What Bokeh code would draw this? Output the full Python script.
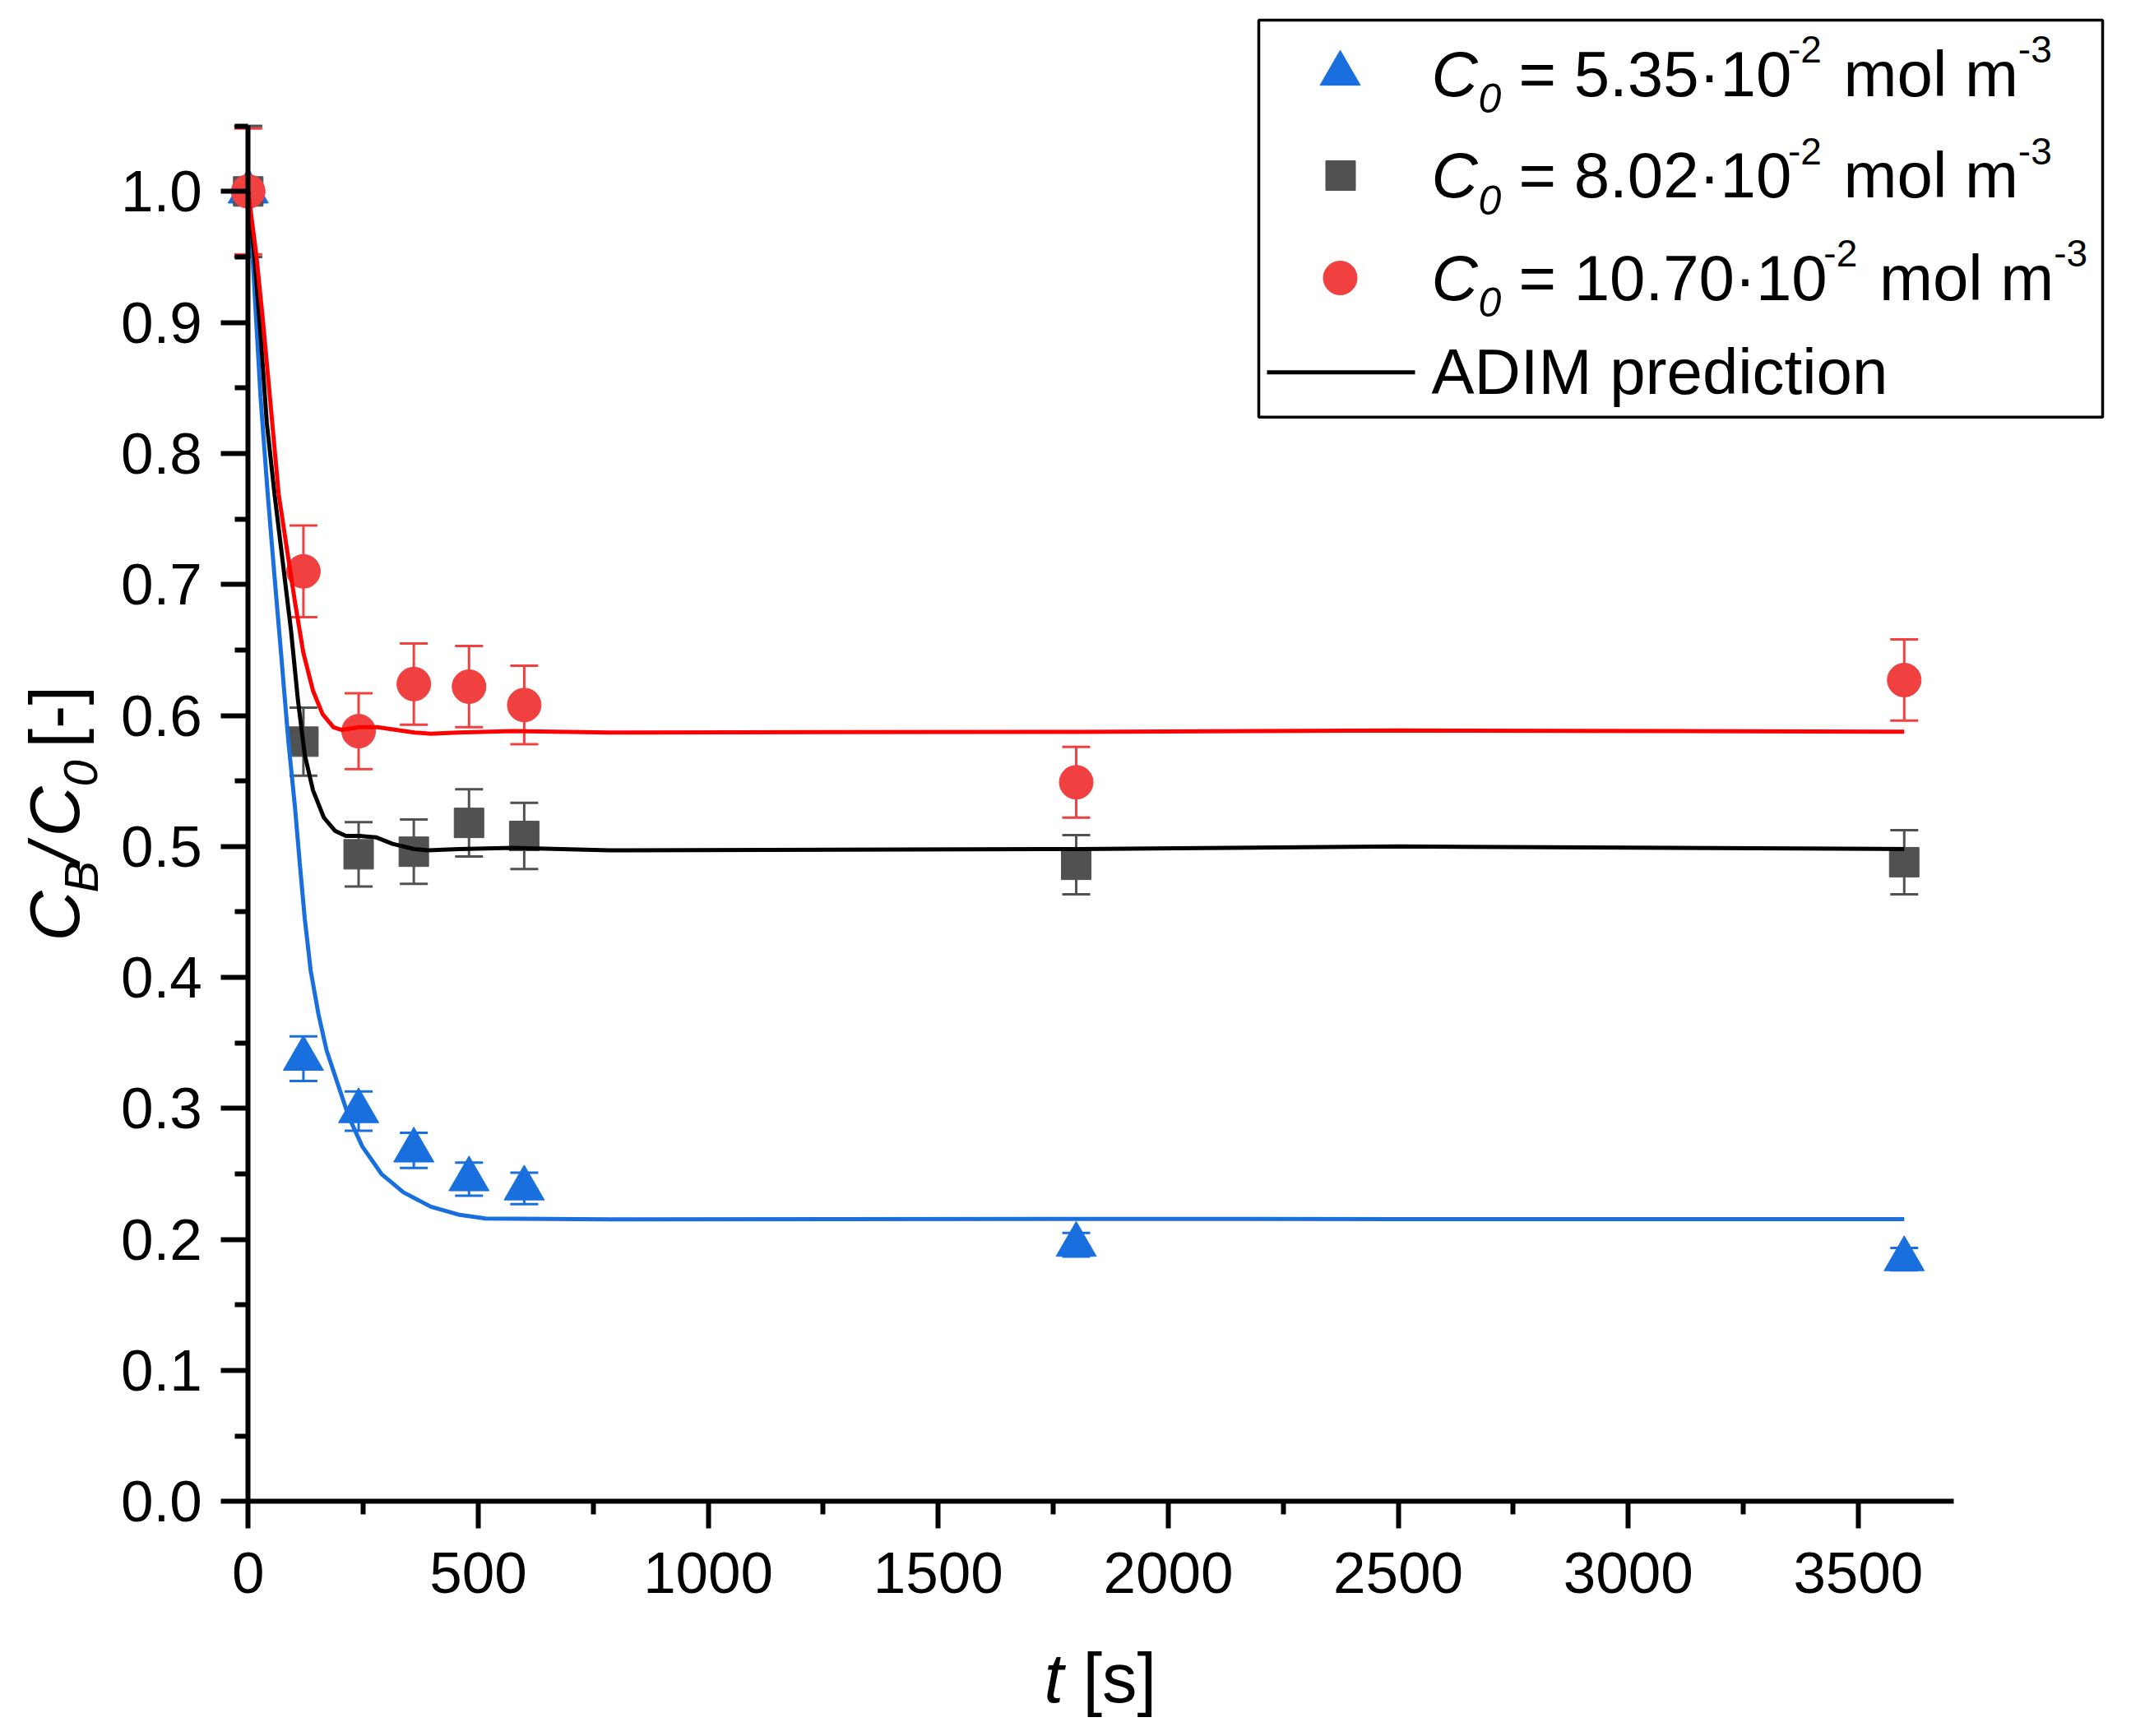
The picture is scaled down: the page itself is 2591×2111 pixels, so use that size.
import numpy as np
from bokeh.plotting import figure
from bokeh.models import (ColumnDataSource, Whisker, TeeHead, Label, FixedTicker,
                          PrintfTickFormatter, Range1d)
from bokeh.embed import file_html
from bokeh.resources import INLINE

# ---------------- data ----------------
t_exp = [0, 120, 240, 360, 480, 600, 1800, 3600]

cb_535 = [1.000, 0.338, 0.298, 0.268, 0.246, 0.239, 0.196, 0.185]
err_535 = [0.050, 0.017, 0.015, 0.0134, 0.0126, 0.012, 0.009, 0.0085]

cb_802 = [1.000, 0.580, 0.494, 0.496, 0.518, 0.508, 0.486, 0.488]
err_802 = [0.050, 0.026, 0.0246, 0.0246, 0.0257, 0.0253, 0.0226, 0.0245]

cb_1070 = [1.000, 0.710, 0.588, 0.624, 0.622, 0.608, 0.549, 0.627]
err_1070 = [0.048, 0.035, 0.029, 0.031, 0.031, 0.030, 0.027, 0.031]

# ADIM prediction curves
t_m_535 = [0, 8.4, 26.8, 42.4, 57.2, 72.2, 87.1, 101.9, 112.1, 122.9, 135.9, 152.7,
           170.6, 194.4, 218.2, 248, 289.7, 337.4, 397, 456.7, 516.3, 784.5, 1800, 2500, 3600]
cb_m_535 = [1.0, 0.957, 0.843, 0.769, 0.706, 0.644, 0.581, 0.529, 0.487, 0.445, 0.405, 0.372,
            0.344, 0.319, 0.294, 0.271, 0.250, 0.236, 0.225, 0.219, 0.216, 0.2153, 0.2157, 0.2155, 0.2155]

t_m_802 = [0, 13.2, 26.8, 40.5, 57.2, 75.1, 93, 108, 122.9, 140.7, 164.5, 188.5, 212.3,
           242.1, 277.9, 313.7, 361.2, 391.1, 456.7, 575.8, 784.5, 1800, 2500, 3600]
cb_m_802 = [1.0, 0.951, 0.891, 0.823, 0.769, 0.717, 0.665, 0.612, 0.570, 0.543, 0.522, 0.512, 0.508,
            0.508, 0.507, 0.502, 0.498, 0.497, 0.498, 0.499, 0.497, 0.498, 0.500, 0.498]

t_m_1070 = [0, 17.7, 31.5, 45.1, 66.2, 84.1, 101.9, 119.8, 140.7, 161.6, 185.4, 203.3,
            242.1, 280.8, 361.2, 397, 456.7, 575.8, 784.5, 1800, 2500, 3600]
cb_m_1070 = [1.0, 0.951, 0.903, 0.851, 0.769, 0.727, 0.686, 0.648, 0.619, 0.601, 0.591, 0.589,
             0.591, 0.591, 0.587, 0.586, 0.587, 0.588, 0.587, 0.5875, 0.5885, 0.5876]

x_ticks = [0, 500, 1000, 1500, 2000, 2500, 3000, 3500]
x_minor = [250, 750, 1250, 1750, 2250, 2750, 3250]
y_ticks = [0.0, 0.1, 0.2, 0.3, 0.4, 0.5, 0.6, 0.7, 0.8, 0.9, 1.0]
y_minor = [0.05, 0.15, 0.25, 0.35, 0.45, 0.55, 0.65, 0.75, 0.85, 0.95, 1.05]

legend_numbers = ["5.35", "8.02", "10.70"]

BLUE = "#1A6FDF"
GRAY = "#515151"
RED_M = "#F14040"
RED_L = "#FF0000"
FONT = "Liberation Sans"
LW_MODEL = 5

# ---------------- page geometry (pixel calibration) ----------------
W, H = 2575, 2095
OFF = 0
X0_PX, PX_PER_T = 301.3, 0.5593
Y0_PX, PX_PER_V = 1825.3, 1593.0
K_BASE = 0.347   # label anchor -> baseline offset (fraction of font size)


def tx(X):
    return (X - X0_PX) / PX_PER_T


def vy(Y):
    return (Y0_PX - Y) / PX_PER_V


p = figure(width=W, height=H, output_backend="svg", toolbar_location=None, title=None,
           x_range=Range1d(tx(OFF), tx(OFF + W)), y_range=Range1d(vy(OFF + H), vy(OFF)),
           min_border=0)
p.background_fill_color = "white"
p.border_fill_color = "white"
p.outline_line_color = None
p.grid.visible = False

for ax in (p.xaxis[0], p.yaxis[0]):
    ax.fixed_location = 0
    ax.axis_line_width = 6
    ax.axis_line_color = "black"
    ax.major_tick_line_width = 6
    ax.minor_tick_line_width = 6
    ax.major_tick_line_color = "black"
    ax.minor_tick_line_color = "black"
    ax.major_tick_in = 0
    ax.major_tick_out = 33
    ax.minor_tick_in = 0
    ax.minor_tick_out = 16
    ax.major_label_text_font = FONT
    ax.major_label_text_font_size = "71px"
    ax.major_label_text_color = "black"

p.xaxis[0].bounds = (0, 3707)
p.xaxis[0].ticker = FixedTicker(ticks=x_ticks, minor_ticks=x_minor)
p.xaxis[0].formatter = PrintfTickFormatter(format="%d")
p.xaxis[0].major_label_standoff = 29

p.yaxis[0].bounds = (0, 1.0501)
p.yaxis[0].ticker = FixedTicker(ticks=y_ticks, minor_ticks=y_minor)
p.yaxis[0].formatter = PrintfTickFormatter(format="%.1f")
p.yaxis[0].major_label_standoff = 23

# ---------------- error bars ----------------
for vals, errs, col in ((cb_535, err_535, BLUE), (cb_802, err_802, GRAY), (cb_1070, err_1070, RED_M)):
    src = ColumnDataSource(dict(t=t_exp,
                                lo=[v - e for v, e in zip(vals, errs)],
                                hi=[v + e for v, e in zip(vals, errs)]))
    w = Whisker(source=src, base="t", upper="hi", lower="lo", dimension="height",
                line_color=col, line_width=3,
                upper_head=TeeHead(size=34, line_color=col, line_width=3),
                lower_head=TeeHead(size=34, line_color=col, line_width=3))
    p.add_layout(w)

# ---------------- markers ----------------
p.scatter(t_exp, cb_535, marker="triangle", size=49, fill_color=BLUE, line_color=BLUE, line_width=1)
p.scatter(t_exp, cb_802, marker="square", size=36, fill_color=GRAY, line_color=GRAY, line_width=1)
p.scatter(t_exp, cb_1070, marker="circle", size=41, fill_color=RED_M, line_color=RED_M, line_width=1)

# ---------------- model curves ----------------
p.line(t_m_535, cb_m_535, line_color=BLUE, line_width=LW_MODEL)
p.line(t_m_802, cb_m_802, line_color="black", line_width=LW_MODEL)
p.line(t_m_1070, cb_m_1070, line_color=RED_L, line_width=LW_MODEL)

# ---------------- legend (drawn by hand) ----------------
p.quad(left=tx(1530), right=tx(2556), top=vy(24), bottom=vy(506.7),
       fill_color="white", line_color="black", line_width=3.5)
p.scatter([tx(1629)], [vy(89)], marker="triangle", size=49, fill_color=BLUE, line_color=BLUE)
p.scatter([tx(1629.5)], [vy(213)], marker="square", size=36, fill_color=GRAY, line_color=GRAY)
p.scatter([tx(1629)], [vy(337.5)], marker="circle", size=41, fill_color=RED_M, line_color=RED_M)
p.line([tx(1540), tx(1720)], [vy(452.3), vy(452.3)], line_color="black", line_width=LW_MODEL)

ADV = {'0': 556, '1': 556, '2': 556, '3': 556, '4': 556, '5': 556, '6': 556, '7': 556,
       '8': 556, '9': 556, ' ': 278, '=': 584, '.': 278, '\u00b7': 278, '-': 333,
       'm': 833, 'o': 556, 'l': 222}


def adv(s, size):
    return sum(ADV[c] for c in s) * size / 1000.0


def lab(X, Y, text, size, style="normal", angle=0):
    # (X, Y): start of text on its baseline, in reference-picture pixels
    if angle == 0:
        Y = Y - K_BASE * size
    else:
        X = X - K_BASE * size
    p.add_layout(Label(x=tx(X), y=vy(Y), text=text, text_font=FONT,
                       text_font_size=f"{size}px", text_font_style=style,
                       text_color="black", text_align="left", text_baseline="alphabetic",
                       angle=angle, angle_units="deg"))


FS, FSUB, FSUP = 78, 50, 46
for num, base in zip(legend_numbers, [116.7, 240.0, 364.3]):
    lab(1740, base, "C", FS, "italic")
    lab(1797, base + 20, "0", FSUB, "italic")
    main = "= " + num + "\u00b710"
    x_main = 1846
    lab(x_main, base, main, FS)
    x_sup1 = x_main + adv(main, FS)
    lab(x_sup1, base - 41, "-2", FSUP)
    x_mol = x_sup1 + adv("-2", FSUP) + 26.7
    lab(x_mol, base, "mol m", FS)
    x_sup2 = x_mol + adv("mol m", FS)
    lab(x_sup2, base - 41, "-3", FSUP)
lab(1740, 479, "ADIM prediction", FS)

# ---------------- axis titles ----------------
lab(95, 1144, "C", 85, "italic", 90)
lab(118, 1085, "B", 58, "italic", 90)
lab(95, 1049, "/", 85, "italic", 90)
lab(95, 1017, "C", 85, "italic", 90)
lab(118, 956, "0", 58, "italic", 90)
lab(95, 909, "[-]", 85, "normal", 90)

lab(1269, 2069, "t", 85, "italic")
lab(1316, 2069, "[s]", 85, "normal")

open("out.html", "w").write(file_html(p, INLINE))
